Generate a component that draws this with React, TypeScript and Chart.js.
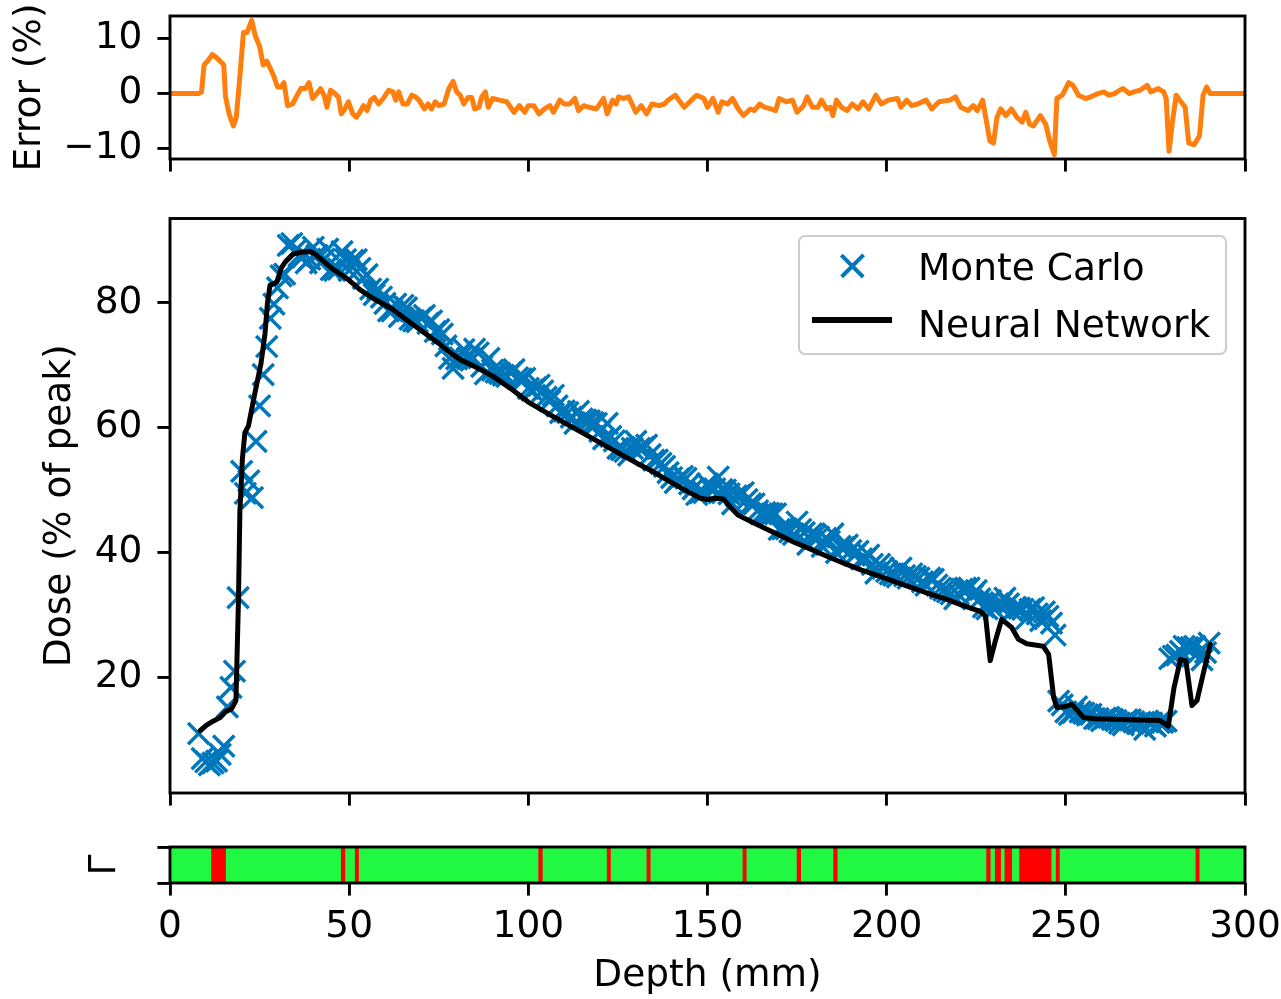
import React, { useEffect, useRef } from 'react';
import { Chart, registerables } from 'chart.js';
Chart.register(...registerables);

const FONT = 'DejaVu Sans';
const BLUE = '#0077bb';
const ORANGE = '#ff7f0e';
const GREEN = '#21f842';
const RED = '#ff0000';

const xTicks = [0, 50, 100, 150, 200, 250, 300];
const errTicks = [-10, 0, 10];
const doseTicks = [20, 40, 60, 80];

// Monte Carlo dose, one value per mm starting at 8 mm
const mcStart = 8;
const mcDose = [
  11.0, 7.0, 6.5, 6.0, 6.3, 6.6, 7.7, 9.0, 15.3, 18.4, // 8-17
  21.0, 32.8, 53.0, 49.5, 51.5, 48.8, 57.8, 63.5, 68.5, 73.0, // 18-27
  77.5, 79.8, 82.4, 84.3, 84.6, 89.2, 89.5, 88.4, 87.5, 87.3, // 28-37
  86.4, 87.0, 88.9, 87.6, 86.4, 87.0, 88.6, 85.3, 85.2, 85.4, // 38-47
  88.2, 86.9, 85.2, 86.8, 86.9, 85.5, 83.9, 84.5, 82.2, 81.3, // 48-57
  82.2, 80.9, 79.9, 78.7, 78.7, 79.8, 77.8, 79.6, 79.2, 77.4, // 58-67
  77.1, 77.0, 77.6, 78.0, 76.7, 77.1, 75.4, 75.7, 75.0, 73.1, // 68-77
  71.1, 69.5, 71.0, 71.2, 72.5, 71.1, 70.8, 72.6, 72.0, 69.8, // 78-87
  68.6, 71.1, 69.2, 68.9, 68.7, 68.4, 68.2, 68.8, 69.3, 68.0, // 88-97
  67.8, 67.9, 66.3, 66.0, 66.4, 66.8, 65.9, 64.9, 64.3, 65.2, // 98-107
  63.5, 62.4, 62.7, 62.4, 61.7, 60.7, 62.6, 61.4, 61.2, 61.1, // 108-117
  60.8, 60.7, 59.4, 58.2, 60.7, 58.6, 57.9, 56.7, 56.5, 56.2, // 118-127
  55.6, 56.7, 57.8, 56.7, 56.8, 57.2, 55.7, 54.8, 54.8, 54.3, // 128-137
  53.8, 52.8, 52.0, 51.2, 51.8, 52.2, 51.9, 51.0, 50.2, 49.3, // 138-147
  49.6, 49.6, 51.0, 50.1, 50.2, 52.1, 50.1, 50.0, 49.4, 47.8, // 148-157
  49.1, 49.2, 49.6, 48.5, 47.8, 47.8, 46.7, 46.2, 46.4, 46.3, // 158-167
  46.2, 46.2, 43.7, 43.8, 43.8, 43.3, 42.9, 44.9, 43.7, 43.2, // 168-177
  41.3, 43.0, 42.8, 42.5, 41.0, 42.3, 41.8, 43.0, 40.0, 41.0, // 178-187
  40.8, 41.2, 40.3, 39.6, 40.2, 39.0, 39.0, 39.6, 38.1, 36.7, // 188-197
  38.1, 37.5, 37.0, 36.6, 36.4, 36.1, 37.5, 36.3, 35.9, 36.6, // 198-207
  36.2, 35.9, 35.3, 34.8, 35.9, 35.7, 34.8, 34.3, 34.0, 33.7, // 208-217
  33.4, 32.6, 33.3, 34.1, 34.3, 34.3, 33.2, 33.9, 32.6, 31.3, // 218-227
  31.0, 32.3, 31.0, 31.8, 32.0, 32.7, 31.8, 30.7, 31.2, 31.1, // 228-237
  30.9, 29.4, 30.9, 31.2, 30.2, 29.1, 30.5, 29.8, 28.7, 26.8, // 238-247
  16.2, 15.6, 14.5, 14.1, 14.4, 15.3, 14.5, 14.3, 14.0, 14.1, // 248-257
  13.4, 13.4, 13.1, 13.5, 13.6, 13.3, 13.1, 12.7, 12.4, 13.2, // 258-267
  13.2, 12.9, 12.6, 12.6, 11.7, 12.9, 12.7, 12.2, 12.8, 12.8, // 268-277
  13.0, 23.0, 23.4, 23.6, 24.2, 25.0, 24.8, 24.8, 25.0, 24.0, // 278-287
  22.8, 24.0, 25.5, // 288-290
];

// Neural network prediction
const nnDepth = [
  8.4, 10, 12, 14, 15.5, 17.2, 18.4, 19.1, 19.5, 20.2, 20.9, 21.9, 23.5, 25.4, 26.5, 27.2, 27.9, 29.8,
  31.0, 32.1, 34.4, 36.5, 39.1, 40.5, 45, 50, 53, 57, 62, 66, 70, 75, 78, 81, 85, 90, 95, 100, 106,
  110, 115, 120, 125, 130, 135, 140, 145, 148, 150, 152, 154.4, 156.5, 158.5, 162, 166, 170, 174,
  178.6, 183, 188, 193, 198.2, 203, 207.4, 212, 216.8, 221, 226.1, 227.6, 228.9, 230.3, 232.1,
  234.9, 236.8, 239.1, 243.7, 245.2, 246.6, 247.5, 249.5, 251.7, 254.9, 258, 263.3, 270, 276.3,
  278.6, 280.2, 282, 283.5, 285.2, 286.6, 288.5, 290.3,
];
const nnDose = [
  11.5, 12.3, 13.0, 13.6, 14.5, 15.0, 16.3, 32.2, 46.5, 55.0, 59.2, 60.3, 65.0, 70.3, 75.0, 80.0, 82.8, 83.3,
  85.5, 86.5, 87.8, 88.1, 88.2, 87.8, 85.6, 83.6, 82.1, 80.6, 79.0, 77.3, 75.6, 73.5, 72.1, 70.9, 69.8, 68.3, 66.3, 64.1, 62.1,
  60.8, 59.2, 57.6, 56.0, 54.4, 52.9, 51.2, 49.6, 48.7, 48.5, 48.7, 48.6, 47.2, 46.0, 45.0, 43.9, 42.8, 41.7,
  40.6, 39.5, 38.3, 37.2, 36.2, 35.2, 34.3, 33.4, 32.5, 31.6, 30.6, 29.8, 22.7, 25.8, 29.3,
  28.0, 26.1, 25.4, 25.0, 23.7, 16.8, 15.2, 15.3, 15.7, 13.6, 13.4, 13.3, 13.2, 13.1,
  12.2, 18.4, 22.9, 22.7, 15.5, 16.3, 21.0, 25.3,
];

// Error (%) curve
const errDepth = [
  0, 8, 8.8, 9.5, 10.5, 11.8, 13, 14, 15, 15.5, 16.5, 17.7, 18.5, 19.5, 20.5, 21.5, 22.8, 23.8, 25, 26,
  27, 28.2, 29, 30, 31, 31.8, 32.8, 34.2, 35.5, 36.5, 37.8, 38.8, 39.8, 41, 42, 43, 43.8, 44.8, 46, 47,
  47.8, 48.8, 49.8, 51, 52, 53, 54, 55, 56, 57, 58.2, 59.5, 61, 62.2, 63, 63.8, 65, 66.2, 67.5, 68.5,
  69.5, 71, 72, 73, 74, 75, 76.5, 77.8, 79, 80, 81, 82, 83.2, 84.2, 85, 86.2, 87, 88, 88.8, 90,
  92, 94, 96, 97.5, 99, 100, 101.5, 103, 104.5, 106, 107, 108.8, 110, 111.5, 113, 114, 115.5, 117, 119, 121,
  122, 123.5, 124.5, 125.2, 126.5, 128, 130, 131.5, 133, 134.5, 136.5, 138, 139, 141, 143.5, 145.5, 147, 149, 150, 151.5,
  153, 154, 155.6, 157, 158.6, 160, 162, 163, 164.6, 166, 167.7, 169, 170, 172, 173.7, 175, 176.8, 177.8, 179.3, 180.8,
  181.8, 183.3, 184.3, 185, 186, 187.4, 189, 190.4, 192, 193.4, 195, 197, 198.5, 200.5, 203, 204, 205.6, 207, 208.6, 211,
  212.6, 214.6, 217.7, 219.2, 220.7, 222.7, 224.2, 225.3, 226.8, 227.8, 228.8, 229.8, 230.8, 231.8, 233.3, 234.8, 236.3, 237.8, 238.8, 239.9,
  240.9, 242.9, 244.4, 245.5, 246.8, 247.5, 249, 250.8, 252, 253.5, 255.5, 257, 259, 260.6, 262, 263.6, 265, 266, 267.7, 269,
  270.7, 272.7, 273.7, 275.8, 277.3, 278, 278.8, 279.8, 280.8, 281.8, 283.3, 284.3, 285.8, 287.3, 288.3, 289.3, 290.3, 300,
];
const errValue = [
  0, 0, 0.3, 5.2, 5.9, 7.1, 6.5, 5.9, 5.2, -0.6, -3.7, -5.9, -4.3, 3.1, 11.1, 11.1, 13.3, 10.5, 8.6, 5.2,
  5.9, 4.3, 3.1, 1.2, 1.2, 2.0, -2.2, -1.9, -0.3, 0.9, 0.9, 2.0, -0.9, 0, 0.9, -0.3, -2.5, 0.6, 0, -0.6,
  -3.7, -2.8, -1.5, -3.7, -4.3, -3.4, -2.2, -3.1, -1.2, -0.7, -1.9, -0.9, 0.6, 0.3, -1.2, 0.3, -1.9, -1.9, -0.3, -0.6,
  -1.2, -2.8, -1.9, -2.8, -1.5, -2.2, -1.9, 0.9, 2.2, 0.3, -0.3, -1.9, -0.7, -0.7, -2.8, -2.5, -0.6, 0.3, -2.5, -0.9,
  -1.2, -1.5, -3.4, -2.2, -3.4, -2.2, -2.2, -3.7, -2.8, -2.2, -3.4, -1.2, -1.9, -1.9, -0.9, -3.1, -2.2, -2.5, -2.8, -0.9,
  -3.7, -1.2, -1.9, -0.6, -0.9, -0.6, -3.4, -2.2, -3.7, -1.9, -2.2, -1.9, -1.2, -0.3, -2.5, -1.2, -0.3, -0.9, -2.5, -0.9,
  -3.4, -1.5, -1.9, -0.9, -2.8, -4.0, -2.8, -3.1, -1.9, -2.5, -2.8, -3.1, -0.9, -1.5, -1.2, -3.4, -2.2, -0.6, -2.5, -2.5,
  -1.2, -2.8, -2.5, -4.0, -1.2, -2.5, -3.1, -1.9, -2.8, -1.5, -2.8, -0.3, -1.9, -1.2, -0.9, -2.5, -1.2, -2.2, -1.9, -1.2,
  -2.8, -1.5, -1.2, -0.6, -2.5, -3.1, -2.2, -3.1, -1.2, -4.9, -8.6, -9.0, -4.3, -2.8, -4.0, -2.8, -4.3, -5.2, -3.4, -5.6,
  -5.9, -4.0, -5.6, -8.6, -11.1, -0.9, -0.3, 2.0, 1.5, -0.3, -0.9, -0.6, 0, 0.3, -0.3, 0, 0.6, 0.9, 0, 0.3,
  0.6, 1.5, 0.3, 0.9, 0.3, -0.9, -10.5, -4.9, -0.3, -1.2, -2.5, -9.0, -9.3, -7.7, -0.3, 1.2, 0, 0,
];

// Gamma test failures (depth ranges, mm)
const failStart = [11.6, 47.8, 51.7, 102.9, 122.0, 133.1, 159.9, 175.0, 185.2, 227.9, 230.3, 233.0, 237.1, 247.3, 286.3];
const failEnd = [15.5, 48.8, 52.6, 103.9, 122.9, 134.0, 160.8, 176.0, 186.2, 228.9, 231.8, 234.9, 245.9, 248.2, 287.2];

const TICK_FONT = { family: FONT, size: 37.5 };
const tickGrid = { drawOnChartArea: false, drawTicks: true, tickLength: 12.6, lineWidth: 2.9, color: '#000' };

const framePlugin = {
  id: 'frame',
  afterDraw(chart: any) {
    const { ctx, chartArea: a } = chart;
    ctx.save();
    ctx.strokeStyle = '#000';
    ctx.lineWidth = 2.9;
    ctx.strokeRect(a.left, a.top, a.right - a.left, a.bottom - a.top);
    ctx.restore();
  },
};

function noPad(axis: any) {
  axis.paddingTop = 0;
  axis.paddingBottom = 0;
  axis.paddingLeft = 0;
  axis.paddingRight = 0;
}

function xAxis(showLabels: boolean, height: number, title?: string) {
  return {
    type: 'linear',
    min: 0,
    max: 300,
    afterBuildTicks: (axis: any) => { axis.ticks = xTicks.map((v) => ({ value: v })); },
    afterFit: (axis: any) => { axis.height = height; noPad(axis); },
    ticks: { display: showLabels, autoSkip: false, maxRotation: 0, font: TICK_FONT, color: '#000', padding: 9 },
    grid: tickGrid,
    border: { display: false },
    title: title
      ? { display: true, text: title, font: TICK_FONT, color: '#000', padding: { top: 0, bottom: 0 } }
      : { display: false },
  };
}

function yAxisLinear(min: number, max: number, ticksArr: number[], title: string, titlePad: number) {
  return {
    type: 'linear',
    min,
    max,
    afterBuildTicks: (axis: any) => { axis.ticks = ticksArr.map((v) => ({ value: v })); },
    afterFit: (axis: any) => { axis.width = 170; noPad(axis); },
    ticks: { font: TICK_FONT, color: '#000', padding: 15, callback: (v: any) => String(v).replace('-', '\u2212') },
    grid: tickGrid,
    border: { display: false },
    title: { display: true, text: title, font: TICK_FONT, color: '#000', padding: { top: titlePad, bottom: 0 } },
  };
}

const baseOpts = {
  responsive: false,
  maintainAspectRatio: false,
  animation: false,
  devicePixelRatio: 1,
  events: [],
  plugins: { legend: { display: false }, tooltip: { enabled: false } },
};

export default function App() {
  const topRef = useRef<HTMLCanvasElement>(null);
  const midRef = useRef<HTMLCanvasElement>(null);
  const botRef = useRef<HTMLCanvasElement>(null);

  useEffect(() => {
    Chart.defaults.font.family = FONT;
    const charts: Chart[] = [];

    charts.push(new Chart(topRef.current as HTMLCanvasElement, {
      type: 'scatter',
      data: {
        datasets: [{
          label: 'Error',
          data: errDepth.map((x, i) => ({ x, y: errValue[i] })),
          showLine: true,
          borderColor: ORANGE,
          borderWidth: 5,
          pointRadius: 0,
          borderJoinStyle: 'round',
          borderCapStyle: 'round',
        }],
      },
      options: {
        ...baseOpts,
        layout: { padding: { left: 0, right: 36, top: 16, bottom: 0 } },
        scales: {
          x: xAxis(false, 16),
          y: yAxisLinear(-11.9, 14.1, errTicks, 'Error (%)', 7.8),
        },
      } as any,
      plugins: [framePlugin],
    }));

    charts.push(new Chart(midRef.current as HTMLCanvasElement, {
      type: 'scatter',
      data: {
        datasets: [
          {
            label: 'Neural Network',
            data: nnDepth.map((x, i) => ({ x, y: nnDose[i] })),
            showLine: true,
            borderColor: '#000',
            borderWidth: 5,
            pointRadius: 0,
            borderJoinStyle: 'round',
            borderCapStyle: 'round',
            order: 0,
          },
          {
            label: 'Monte Carlo',
            data: mcDose.map((y, i) => ({ x: mcStart + i, y })),
            showLine: false,
            pointStyle: 'crossRot',
            pointRadius: 15,
            pointBorderColor: BLUE,
            pointBackgroundColor: BLUE,
            pointBorderWidth: 3.5,
            borderColor: BLUE,
            order: 1,
          },
        ],
      },
      options: {
        ...baseOpts,
        layout: { padding: { left: 0, right: 36, top: 16, bottom: 0 } },
        scales: {
          x: xAxis(false, 22),
          y: yAxisLinear(1.5, 93.5, doseTicks, 'Dose (% of peak)', 37.5),
        },
      } as any,
      plugins: [framePlugin],
    }));

    const redSets = failStart.map((s, i) => ({
      label: 'fail' + i,
      data: [[s, failEnd[i]]],
      backgroundColor: RED,
      borderWidth: 0,
      grouped: false,
      barPercentage: 1,
      categoryPercentage: 1,
      order: 0,
    }));
    charts.push(new Chart(botRef.current as HTMLCanvasElement, {
      type: 'bar',
      data: {
        labels: [''],
        datasets: [
          ...redSets,
          {
            label: 'pass',
            data: [[0, 300]],
            backgroundColor: GREEN,
            borderWidth: 0,
            grouped: false,
            barPercentage: 1,
            categoryPercentage: 1,
            order: 1,
          },
        ],
      },
      options: {
        ...baseOpts,
        indexAxis: 'y',
        layout: { padding: { left: 0, right: 36, top: 17, bottom: 0 } },
        scales: {
          x: xAxis(true, 116, 'Depth (mm)'),
          y: {
            type: 'category',
            offset: true,
            afterFit: (axis: any) => { axis.width = 170; noPad(axis); },
            ticks: { display: false },
            grid: { ...tickGrid, offset: true },
            border: { display: false },
            title: { display: true, text: 'Γ', font: TICK_FONT, color: '#000', padding: { top: 82.5, bottom: 0 } },
          },
        },
      } as any,
      plugins: [framePlugin],
    }));

    return () => { charts.forEach((c) => c.destroy()); };
  }, []);

  const textStyle: React.CSSProperties = {
    position: 'absolute',
    left: 918,
    fontFamily: FONT,
    fontSize: 37.5,
    lineHeight: '36px',
    color: '#000',
    whiteSpace: 'nowrap',
  };
  const crossBar: React.CSSProperties = {
    position: 'absolute',
    left: 852 - 15.3,
    top: 266 - 1.75,
    width: 30.6,
    height: 3.5,
    background: BLUE,
  };

  return (
    <div style={{ position: 'absolute', left: 0, top: 0, width: 1281, height: 999, background: '#fff', overflow: 'hidden' }}>
      <canvas ref={topRef} width={1281} height={175} style={{ position: 'absolute', left: 0, top: 0, width: 1281, height: 175 }} />
      <canvas ref={midRef} width={1281} height={615} style={{ position: 'absolute', left: 0, top: 200, width: 1281, height: 615 }} />
      <canvas ref={botRef} width={1281} height={169} style={{ position: 'absolute', left: 0, top: 830, width: 1281, height: 169 }} />
      <div style={{
        position: 'absolute', left: 798, top: 235, width: 429, height: 120, boxSizing: 'border-box',
        border: '2px solid #cccccc', borderRadius: 7, background: 'rgba(255,255,255,0.8)',
      }} />
      <div style={{ ...crossBar, transform: 'rotate(45deg)' }} />
      <div style={{ ...crossBar, transform: 'rotate(-45deg)' }} />
      <div style={{ position: 'absolute', left: 812, top: 320 - 2.6, width: 80, height: 5.2, background: '#000' }} />
      <div style={{ ...textStyle, top: 249 }}>Monte Carlo</div>
      <div style={{ ...textStyle, top: 305.5 }}>Neural Network</div>
    </div>
  );
}
